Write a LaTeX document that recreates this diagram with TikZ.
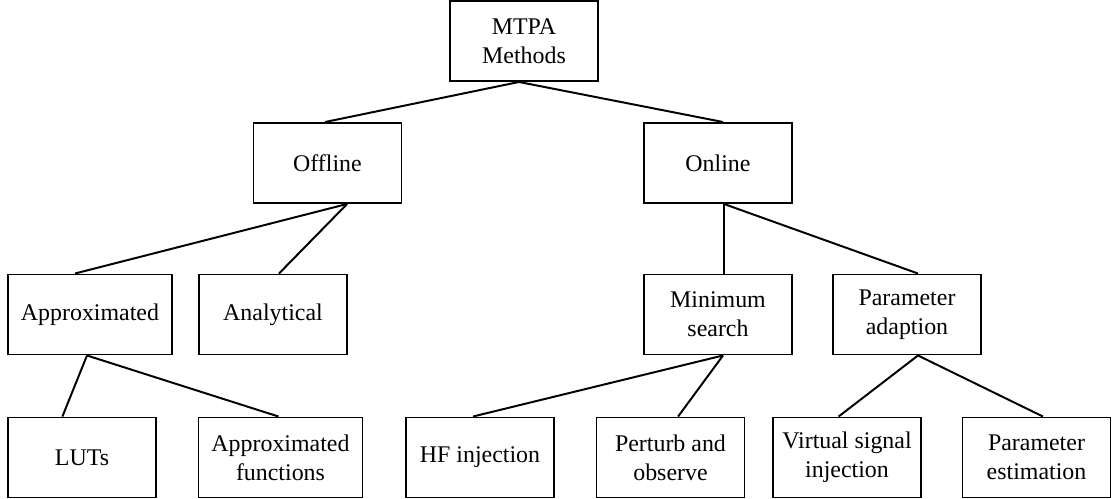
\documentclass[tikz,border=0pt]{standalone}
\usepackage{fontspec}
\setmainfont{Liberation Serif}
\usetikzlibrary{positioning}
\tikzset{
 methodbox/.style={
  % plain rectangle, sized to the widest label of a row
  draw, rectangle, align=center, minimum width=3.7cm, minimum height=2cm,
  inner sep=2pt, font=\fontsize{17}{20.5}\selectfont
 },
 widebox/.style={methodbox, minimum width=4.1cm}
}
\begin{document}
\begin{tikzpicture}[line width=1.4pt, on grid]
 \node [methodbox] (mtpa) {MTPA\\Methods};
 \useasboundingbox ([xshift=-13.1cm, yshift=1.025cm]mtpa.center) rectangle ++(27.8, -12.475);

 \node [methodbox, below left=3.05cm and 4.9125cm of mtpa] (offline) {Offline};
 \node [methodbox, below right=3.05cm and 4.85cm of mtpa] (online) {Online};

 \node [widebox, below left=3.7875cm and 5.9375cm of offline] (approx) {Approximated};
 \node [methodbox, below left=3.7875cm and 1.3625cm of offline] (analytical) {Analytical};
 \node [methodbox, below=3.7875cm of online] (minsearch) {Minimum\\search};
 \node [methodbox, below right=3.7875cm and 4.725cm of online] (paradapt) {Parameter\\adaption};

 \node [methodbox, below left=3.575cm and 0.2cm of approx] (luts) {LUTs};
 \node [widebox, below right=3.575cm and 4.7625cm of approx] (apprfun) {Approximated\\functions};
 \node [methodbox, below left=3.575cm and 5.95cm of minsearch] (hfinj) {HF injection};
 \node [methodbox, below left=3.575cm and 1.1875cm of minsearch] (perturb) {Perturb and\\observe};
 \node [methodbox, below left=3.575cm and 1.5cm of paradapt] (virtual) {Virtual signal\\injection};
 \node [methodbox, below right=3.575cm and 3.2375cm of paradapt] (paraest) {Parameter\\estimation};

 % branches
 \draw ([xshift=-1.25mm]mtpa.south) -- ([xshift=-0.6mm]offline.north);
 \draw ([xshift=-1.25mm]mtpa.south) -- ([xshift=1.25mm]online.north);
 \draw ([xshift=4.9mm]offline.south) -- ([xshift=-3.75mm]approx.north);
 \draw ([xshift=4.9mm]offline.south) -- ([xshift=1.5mm]analytical.north);
 \draw ([xshift=1.5mm]online.south) -- ([xshift=1.5mm]minsearch.north);
 \draw ([xshift=1.5mm]online.south) -- ([xshift=2.75mm]paradapt.north);
 \draw ([xshift=-0.75mm]approx.south) -- ([xshift=-4.9mm]luts.north);
 \draw ([xshift=-0.75mm]approx.south) -- ([xshift=-0.5mm]apprfun.north);
 \draw ([xshift=1.25mm]minsearch.south) -- ([xshift=-1.75mm]hfinj.north);
 \draw ([xshift=1.25mm]minsearch.south) -- ([xshift=1.9mm]perturb.north);
 \draw ([xshift=2.75mm]paradapt.south) -- ([xshift=-2.1mm]virtual.north);
 \draw ([xshift=2.75mm]paradapt.south) -- ([xshift=1.6mm]paraest.north);
\end{tikzpicture}
\end{document}
